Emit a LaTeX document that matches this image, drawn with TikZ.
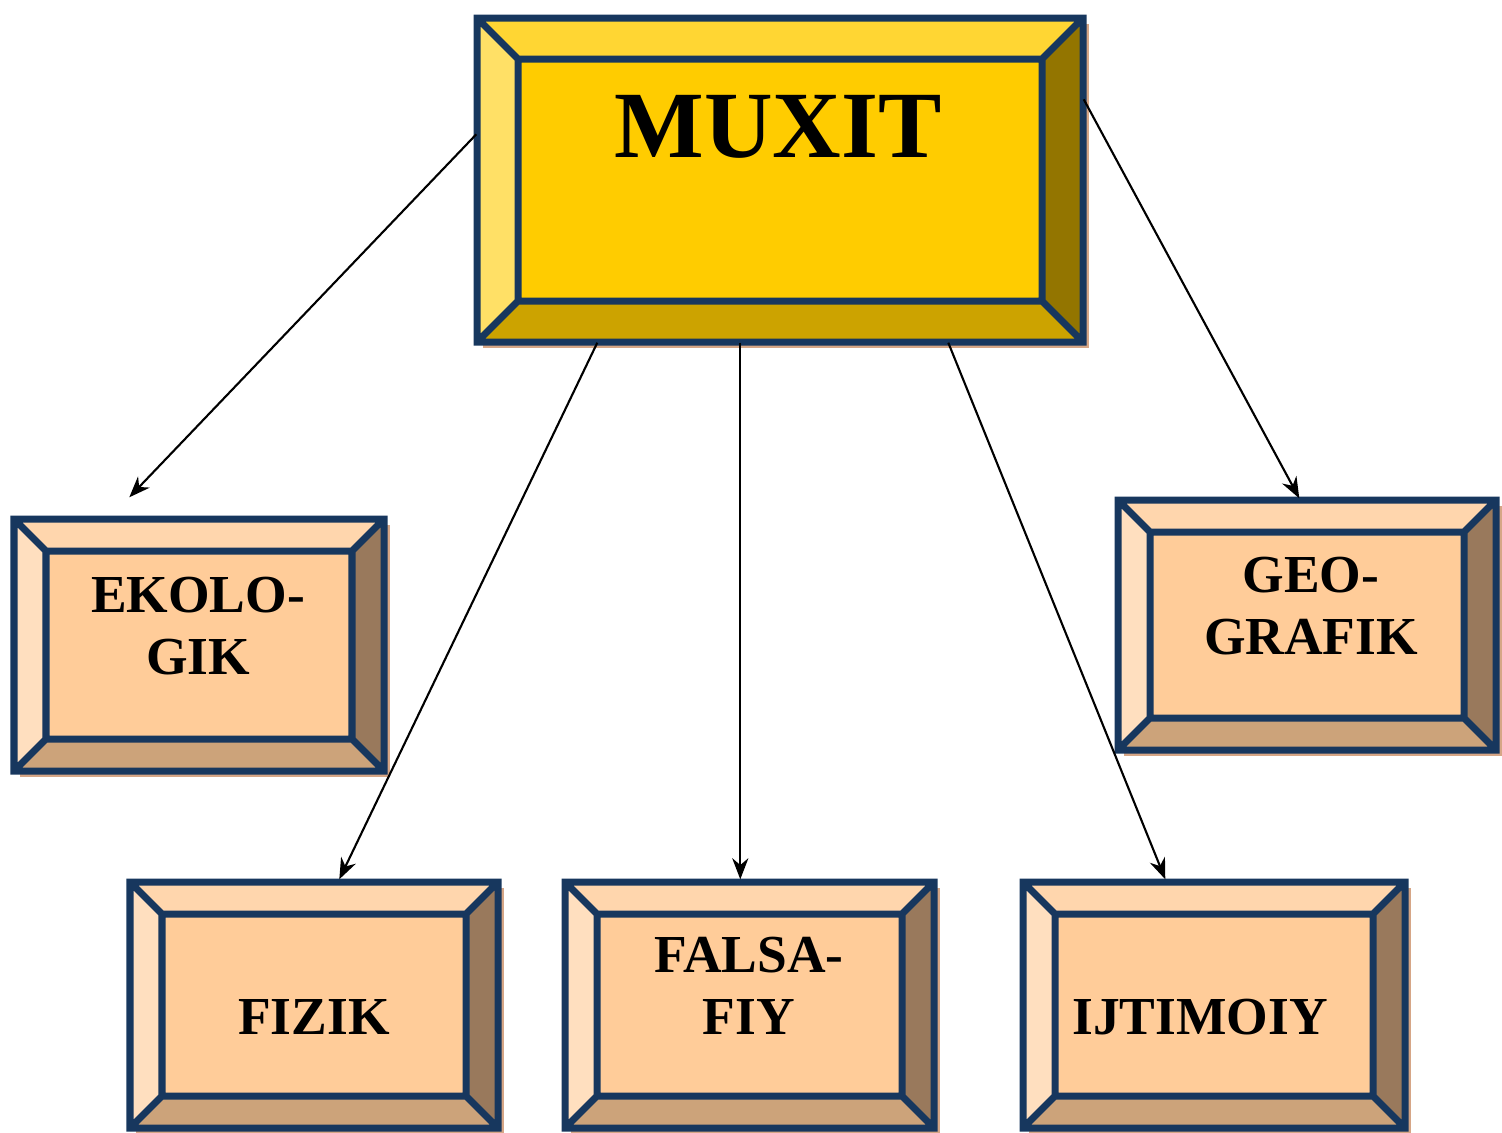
\documentclass[tikz,border=0pt]{standalone}
\usepackage{fontspec}
\setmainfont{Liberation Serif}
\usetikzlibrary{arrows.meta,fit}
\definecolor{bordc}{HTML}{17375E}
\definecolor{shadc}{HTML}{D6A686}
\definecolor{mtop}{HTML}{FFD633}
\definecolor{mleft}{HTML}{FFE066}
\definecolor{mmid}{HTML}{FFCC00}
\definecolor{mright}{HTML}{937500}
\definecolor{mbot}{HTML}{CCA300}
\definecolor{ptop}{HTML}{FFD6AD}
\definecolor{pleft}{HTML}{FFDFBF}
\definecolor{pmid}{HTML}{FFCC99}
\definecolor{pright}{HTML}{99795C}
\definecolor{pbot}{HTML}{CCA37A}
\tikzset{
  bord/.style={draw=bordc,line width=0.07cm,line join=miter},
  conn/.style={draw=black,line width=0.6pt,-{Stealth[length=6pt,width=4.6pt]}},
  bigtxt/.style={font=\fontsize{27}{30}\selectfont\bfseries},
  smalltxt/.style={font=\fontsize{15.2}{17.6}\selectfont\bfseries,align=center},
}
\newcommand\bevbox[7]{%
  \fill[shadc] (#2+6,#3+6) rectangle (#4+6,#5+6);
  \fill[#7top] (#2,#3) -- (#4,#3) -- (#4-#6,#3+#6) -- (#2+#6,#3+#6) -- cycle;
  \fill[#7bot] (#2,#5) -- (#4,#5) -- (#4-#6,#5-#6) -- (#2+#6,#5-#6) -- cycle;
  \fill[#7left] (#2,#3) -- (#2+#6,#3+#6) -- (#2+#6,#5-#6) -- (#2,#5) -- cycle;
  \fill[#7right] (#4,#3) -- (#4-#6,#3+#6) -- (#4-#6,#5-#6) -- (#4,#5) -- cycle;
  \fill[#7mid] (#2+#6,#3+#6) rectangle (#4-#6,#5-#6);
  \draw[bord] (#2,#3) rectangle (#4,#5) (#2+#6,#3+#6) rectangle (#4-#6,#5-#6)
    (#2,#3) -- (#2+#6,#3+#6) (#4,#3) -- (#4-#6,#3+#6)
    (#2,#5) -- (#2+#6,#5-#6) (#4,#5) -- (#4-#6,#5-#6);
  \path (#2,#3) coordinate (#1-nw) (#4,#5) coordinate (#1-se);
  \node[fit=(#1-nw)(#1-se),inner sep=0pt] (#1) {};
}
\begin{document}
\begin{tikzpicture}[x=0.01cm,y=-0.01cm]
\useasboundingbox (0,0) rectangle (1502,1133);
\bevbox{muxit}{477}{18}{1083}{342}{41}{m}
\bevbox{ekolo}{14}{519}{384}{771}{32}{p}
\bevbox{geo}{1118}{500}{1496}{750}{32}{p}
\bevbox{fizik}{130}{882}{498}{1128}{32}{p}
\bevbox{falsa}{565}{882}{934}{1128}{32}{p}
\bevbox{ijti}{1023}{882}{1405}{1128}{32}{p}
\node[bigtxt] (tmux) at (778,127) {MUXIT};
\node[smalltxt] (tek) at (198,626) {EKOLO-\\GIK};
\node[smalltxt] (tgeo) at (1311,606) {GEO-\\GRAFIK};
\node[smalltxt] (tfiz) at (314,1017) {FIZIK};
\node[smalltxt] (tfal) at (749,986) {FALSA-\\FIY};
\node[smalltxt] (tij) at (1200,1017) {IJTIMOIY};
\draw[conn] ([shift={(0,117)}]muxit.north west) -- ([shift={(116,-21)}]ekolo.north west);
\draw[conn] ([shift={(121,0)}]muxit.south west) -- ([shift={(210,-2)}]fizik.north west);
\draw[conn] ([shift={(264,0)}]muxit.south west) -- ([shift={(176,-2)}]falsa.north west);
\draw[conn] ([shift={(472,0)}]muxit.south west) -- ([shift={(143,-2)}]ijti.north west);
\draw[conn] ([shift={(0,82)}]muxit.north east) -- ([shift={(182,-1)}]geo.north west);
\end{tikzpicture}
\end{document}
